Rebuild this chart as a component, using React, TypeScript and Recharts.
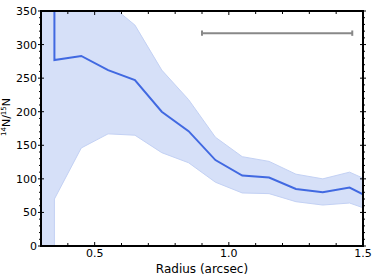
import { ComposedChart, Area, Line, XAxis, YAxis, ReferenceLine } from "recharts";

// radius (arcsec); the repeated 0.35 gives the vertical jump seen at the inner edge
const radius = [0.3, 0.35, 0.35, 0.45, 0.55, 0.65, 0.75, 0.85, 0.95, 1.05, 1.15, 1.25, 1.35, 1.45, 1.5];
const ratio = [600, 600, 277, 283, 262, 247, 200, 171, 128, 105, 102, 85, 80, 87, 77];
const lower = [-50, -50, 70, 146, 167, 165, 139, 124, 95, 79, 78, 66, 61, 64, 57];
const upper = [600, 600, 600, 500, 362, 329, 262, 218, 162, 133, 126, 107, 100, 110, 101];

// beam / resolution bar (start, end radius; height)
const beamStart = 0.9;
const beamEnd = 1.46;
const beamY = 317;
const beamCap = 4;

const yTicks = Array.from({ length: 36 }, (_, i) => i * 10);
const xTicks = [0.3, 0.4, 0.5, 0.6, 0.7, 0.8, 0.9, 1.0, 1.1, 1.2, 1.3, 1.4, 1.5];
const xLabels = [0.5, 1.0, 1.5];

const W = 374;
const H = 280;
const M = { top: 11, right: 11, left: 0, bottom: 0 };
const Y_W = 41;
const X_H = 34;
const PLOT_W = W - M.right - Y_W;
const PLOT_H = H - M.top - X_H;
const FONT = "'DejaVu Sans', Verdana, sans-serif";

const data = radius.map((r, i) => ({ r, ratio: ratio[i], band: [lower[i], upper[i]] }));

function YTick(props: any) {
  const { x, y, payload } = props;
  const v = payload.value;
  const major = v % 50 === 0;
  const right = x + PLOT_W;
  return (
    <g>
      {major ? (
        <>
          <line x1={x - 3} x2={x + 3} y1={y} y2={y} stroke="#000" strokeWidth={1} />
          <line x1={right + 3} x2={right - 3} y1={y} y2={y} stroke="#000" strokeWidth={1} />
          <text x={x - 4} y={y} dy={4} textAnchor="end" fontSize={11} fontFamily={FONT} fill="#000">
            {v}
          </text>
        </>
      ) : (
        <>
          <line x1={x - 2} x2={x} y1={y} y2={y} stroke="#000" strokeWidth={1} />
          <line x1={right} x2={right + 2} y1={y} y2={y} stroke="#000" strokeWidth={1} />
        </>
      )}
    </g>
  );
}

function XTick(props: any) {
  const { x, y, payload } = props;
  const v = payload.value;
  const labelled = xLabels.some((l) => Math.abs(l - v) < 1e-6);
  const len = labelled ? 4 : 3;
  const top = y - PLOT_H;
  return (
    <g>
      <line x1={x} x2={x} y1={y} y2={y - len} stroke="#000" strokeWidth={1} />
      <line x1={x} x2={x} y1={top} y2={top + len} stroke="#000" strokeWidth={1} />
      {labelled && (
        <text x={x} y={y + 11} textAnchor="middle" fontSize={11} fontFamily={FONT} fill="#000">
          {v.toFixed(1)}
        </text>
      )}
    </g>
  );
}

function YLabel() {
  return (
    <text
      transform="translate(10,117) rotate(-90)"
      textAnchor="middle"
      fontSize={11}
      fontFamily={FONT}
      fill="#000"
    >
      <tspan fontSize={7} dy={-4}>14</tspan>
      <tspan dy={4}>N/</tspan>
      <tspan fontSize={7} dy={-4}>15</tspan>
      <tspan dy={4}>N</tspan>
    </text>
  );
}

export default function App() {
  return (
    <div style={{ position: "fixed", left: 0, top: 0, width: W, height: H, background: "#fff", overflow: "hidden" }}>
      <ComposedChart width={W} height={H} data={data} margin={M}>
        <Area
          dataKey="band"
          type="linear"
          stroke="#c3d1f4"
          strokeWidth={1}
          fill="#d6e0f8"
          fillOpacity={1}
          isAnimationActive={false}
        />
        <Line
          dataKey="ratio"
          type="linear"
          stroke="#4169e1"
          strokeWidth={2}
          dot={false}
          isAnimationActive={false}
        />
        <ReferenceLine
          segment={[{ x: beamStart, y: beamY }, { x: beamEnd, y: beamY }]}
          stroke="#888"
          strokeWidth={2}
        />
        <ReferenceLine
          segment={[{ x: beamStart, y: beamY - beamCap }, { x: beamStart, y: beamY + beamCap }]}
          stroke="#888"
          strokeWidth={2}
        />
        <ReferenceLine
          segment={[{ x: beamEnd, y: beamY - beamCap }, { x: beamEnd, y: beamY + beamCap }]}
          stroke="#888"
          strokeWidth={2}
        />
        <XAxis
          dataKey="r"
          type="number"
          domain={[0.3, 1.5]}
          allowDataOverflow
          ticks={xTicks}
          interval={0}
          height={X_H}
          tickSize={0}
          tickMargin={0}
          tick={<XTick />}
          tickLine={false}
          axisLine={{ stroke: "#000", strokeWidth: 2 }}
          label={{
            value: "Radius (arcsec)",
            position: "insideBottom",
            offset: 7,
            fontSize: 12,
            fontFamily: FONT,
            fill: "#000",
          }}
        />
        <YAxis
          type="number"
          domain={[0, 350]}
          allowDataOverflow
          ticks={yTicks}
          interval={0}
          width={Y_W}
          tickSize={0}
          tickMargin={0}
          tick={<YTick />}
          tickLine={false}
          axisLine={{ stroke: "#000", strokeWidth: 2 }}
          label={{ content: () => <YLabel /> }}
        />
        <YAxis
          yAxisId="right"
          orientation="right"
          domain={[0, 350]}
          width={0}
          tick={false}
          tickLine={false}
          axisLine={{ stroke: "#000", strokeWidth: 2 }}
        />
      </ComposedChart>
      {/* plot frame */}
      <div
        style={{
          position: "absolute",
          left: Y_W - 1,
          top: M.top - 1,
          width: PLOT_W + 2,
          height: PLOT_H + 2,
          border: "2px solid #000",
          boxSizing: "border-box",
          pointerEvents: "none",
        }}
      />
    </div>
  );
}
